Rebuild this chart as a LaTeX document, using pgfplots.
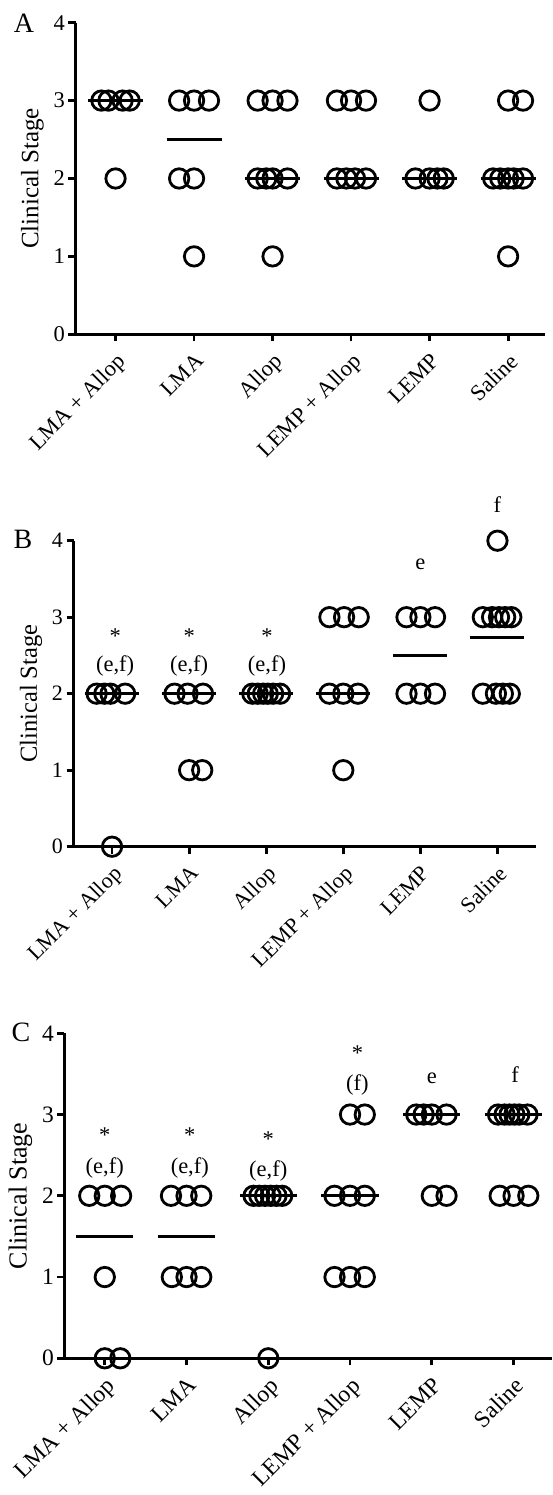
\documentclass[border=0pt]{standalone}
\usepackage{fontspec}
\setmainfont{Liberation Serif}
\usepackage{pgfplots}
\pgfplotsset{compat=1.18}

\pgfplotsset{
  prism/.style={
    scale only axis,
    anchor=south west,
    axis lines*=left,
    axis line style={line width=2.8pt, black},
    ymin=0, ymax=4, ytick={0,1,2,3,4},
    xtick={0,1,2,3,4,5},
    xticklabels={LMA + Allop, LMA, Allop, LEMP + Allop, LEMP, Saline},
    tick align=outside,
    major tick length=7pt,
    tick style={line width=2.8pt, black},
    xticklabel style={yshift=-9pt, rotate=45, anchor=north east, inner sep=1pt},
    /pgf/number format/assume math mode=true,
    clip=false,
    ylabel={Clinical Stage},
  },
  pts/.style={only marks, mark=o, mark size=9.7pt, line width=2.8pt, black, mark options={line width=2.8pt, black}},
  med/.style={black, line width=2.8pt, no marks},
}
\tikzset{ann/.style={anchor=base, font=\fontsize{22.5}{24}\selectfont}}

\begin{document}
\begin{tikzpicture}
\useasboundingbox (0,0) rectangle (553pt,1495pt);

% ---------------- Panel A ----------------
\begin{axis}[prism,
  at={(75.5pt,1160.7pt)}, width=469.5pt, height=311.6pt,
  xmin=-0.51, xmax=5.47,
  tick label style={font=\fontsize{22.5}{24}\selectfont},
  every axis y label/.style={at={([xshift=-43pt]axis description cs:0,0.5)}, rotate=90, anchor=center, font=\fontsize{25}{27}\selectfont},
]
\addplot[pts] table {
x y
-0.18 3
-0.09 3
0.09 3
0.18 3
0 2
0.81 3
1 3
1.19 3
0.81 2
1 2
1 1
1.81 3
2 3
2.19 3
1.81 2
1.92 2
2 2
2.19 2
2 1
2.82 3
3 3
3.19 3
2.82 2
2.94 2
3.05 2
3.19 2
4 3
3.82 2
4 2
4.1 2
4.18 2
5 3
5.19 3
4.81 2
4.9 2
5 2
5.07 2
5.19 2
5 1
};
\addplot[med] coordinates {(-0.35,3) (0.35,3)};
\addplot[med] coordinates {(0.65,2.5) (1.35,2.5)};
\addplot[med] coordinates {(1.65,2) (2.35,2)};
\addplot[med] coordinates {(2.65,2) (3.35,2)};
\addplot[med] coordinates {(3.65,2) (4.35,2)};
\addplot[med] coordinates {(4.65,2) (5.35,2)};
\end{axis}

% ---------------- Panel B ----------------
\begin{axis}[prism,
  at={(73.5pt,648.3pt)}, width=462.5pt, height=306pt,
  xmin=-0.5, xmax=5.5,
  tick label style={font=\fontsize{22}{24}\selectfont},
  every axis y label/.style={at={([xshift=-42.5pt]axis description cs:0,0.5)}, rotate=90, anchor=center, font=\fontsize{24.5}{26}\selectfont},
]
\addplot[pts] table {
x y
-0.2 2
-0.1 2
-0.02 2
0.17 2
0 0
0.81 2
0.98 2
1.18 2
1 1
1.17 1
1.82 2
1.89 2
1.96 2
2.02 2
2.09 2
2.18 2
2.82 3
3.01 3
3.2 3
2.82 2
3 2
3.19 2
3 1
3.82 3
4 3
4.19 3
3.82 2
4 2
4.19 2
5 4
4.81 3
4.93 3
5.02 3
5.1 3
5.18 3
4.81 2
4.98 2
5.07 2
5.16 2
};
\addplot[med] coordinates {(-0.35,2) (0.35,2)};
\addplot[med] coordinates {(0.65,2) (1.35,2)};
\addplot[med] coordinates {(1.65,2) (2.35,2)};
\addplot[med] coordinates {(2.65,2) (3.35,2)};
\addplot[med] coordinates {(3.65,2.5) (4.35,2.5)};
\addplot[med] coordinates {(4.65,2.73) (5.35,2.73)};
\node[ann] at (axis cs:0.04,2.655) {*};
\node[ann] at (axis cs:0.04,2.29) {(e,f)};
\node[ann] at (axis cs:1,2.655) {*};
\node[ann] at (axis cs:1,2.29) {(e,f)};
\node[ann] at (axis cs:2.01,2.655) {*};
\node[ann] at (axis cs:2.01,2.29) {(e,f)};
\node[ann] at (axis cs:4,3.62) {e};
\node[ann] at (axis cs:5,4.37) {f};
\end{axis}

% ---------------- Panel C ----------------
\begin{axis}[prism,
  at={(64.3pt,136.7pt)}, width=487.7pt, height=325pt,
  xmin=-0.495, xmax=5.47,
  tick label style={font=\fontsize{23.5}{25}\selectfont},
  every axis y label/.style={at={([xshift=-44pt]axis description cs:0,0.5)}, rotate=90, anchor=center, font=\fontsize{26}{28}\selectfont},
]
\addplot[pts] table {
x y
-0.19 2
0 2
0.2 2
0 1
0 0
0.19 0
0.81 2
1 2
1.18 2
0.82 1
1 1
1.18 1
1.82 2
1.89 2
1.96 2
2.03 2
2.1 2
2.17 2
2 0
3 3
3.18 3
2.81 2
3 2
3.18 2
2.81 1
3 1
3.18 1
3.81 3
3.9 3
4 3
4.18 3
4 2
4.18 2
4.81 3
4.89 3
4.95 3
5.01 3
5.07 3
5.17 3
4.83 2
5 2
5.18 2
};
\addplot[med] coordinates {(-0.35,1.5) (0.35,1.5)};
\addplot[med] coordinates {(0.65,1.5) (1.35,1.5)};
\addplot[med] coordinates {(1.65,2) (2.35,2)};
\addplot[med] coordinates {(2.65,2) (3.35,2)};
\addplot[med] coordinates {(3.65,3) (4.35,3)};
\addplot[med] coordinates {(4.65,3) (5.35,3)};
\node[ann] at (axis cs:0,2.65) {*};
\node[ann] at (axis cs:0,2.27) {(e,f)};
\node[ann] at (axis cs:1.04,2.65) {*};
\node[ann] at (axis cs:1.04,2.27) {(e,f)};
\node[ann] at (axis cs:2,2.61) {*};
\node[ann] at (axis cs:2,2.24) {(e,f)};
\node[ann] at (axis cs:3.09,3.67) {*};
\node[ann] at (axis cs:3.09,3.29) {(f)};
\node[ann] at (axis cs:4,3.38) {e};
\node[ann] at (axis cs:5.02,3.39) {f};
\end{axis}

% panel letters
\node[font=\fontsize{28}{30}\selectfont] at (24pt,1472pt) {A};
\node[font=\fontsize{28}{30}\selectfont] at (23pt,956pt) {B};
\node[font=\fontsize{28}{30}\selectfont] at (21pt,462.5pt) {C};
\end{tikzpicture}
\end{document}
